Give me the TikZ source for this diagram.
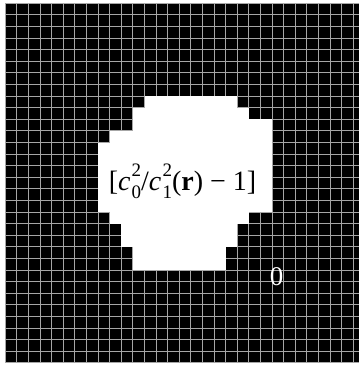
\documentclass[tikz,border=0pt]{standalone}
\usepackage{fontspec}
\setmainfont{Liberation Serif}
\newcommand{\scrsz}{\fontsize{19}{19}\selectfont}
\newcommand{\cwith}[2]{\textit{c}\kern0.04em\rlap{\raisebox{0.5em}{\scrsz #2}}\raisebox{-0.3em}{\scrsz #1}}
\tikzset{
  gridline/.style={draw=gray!70!white, line width=0.9pt},
  blob/.style={fill=white},
  lbl/.style={text=black, inner sep=0pt, anchor=base, font=\fontsize{28}{32}\selectfont},
  zerolbl/.style={text=white, inner sep=0pt, anchor=base, font=\fontsize{27}{30}\selectfont}
}
\begin{document}
\begin{tikzpicture}[x=1pt,y=-1pt]
\useasboundingbox (0,0) rectangle (359,370);
\def\xo{5.3}
\def\yo{3.3}
\def\s{11.6}
\begin{scope}
\clip (0,0) rectangle (359,370);
\fill[black] (\xo,\yo) rectangle (366,{\yo+31*\s});
\foreach \i in {0,...,31} {
  \draw[gridline] ({\xo+\i*\s},\yo) -- ({\xo+\i*\s},{\yo+31*\s});
}
\foreach \j in {0,...,31} {
  \draw[gridline] (\xo,{\yo+\j*\s}) -- (366,{\yo+\j*\s});
}
\foreach \r/\a/\b in {8/12/19, 9/11/20, 10/11/22, 11/9/22, 12/8/22, 13/8/22, 14/8/22, 15/8/22, 16/8/22, 17/8/22, 18/9/20, 19/10/19, 20/10/19, 21/11/18, 22/11/18} {
  \fill[blob] ({\xo+\a*\s},{\yo+\r*\s}) rectangle ({\xo+(\b+1)*\s},{\yo+(\r+1)*\s});
}
\end{scope}
\node[lbl] (expr) at (182.5,190) {[\cwith{0}{2}/\cwith{1}{2}(\textbf{r})~−~1]};
\node[zerolbl] (zero) at (276.5,285) {0};
\end{tikzpicture}
\end{document}
